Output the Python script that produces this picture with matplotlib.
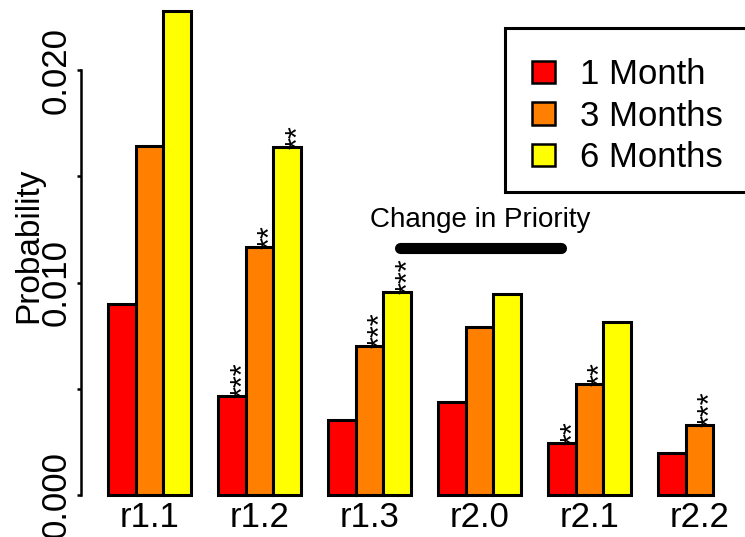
import matplotlib
matplotlib.use("Agg")
import matplotlib.pyplot as plt
from matplotlib.patches import Patch
from matplotlib.lines import Line2D

# ===============================
# Data
# ===============================
groups = ['r1.1', 'r1.2', 'r1.3', 'r2.0', 'r2.1', 'r2.2']
month1 = [0.0090, 0.00466, 0.00353, 0.00438, 0.00245, 0.00198]
month3 = [0.01642, 0.01167, 0.0070, 0.0079, 0.00522, 0.0033]
month6 = [0.0228, 0.01638, 0.00955, 0.00946, 0.00814, None]   # r2.2 has no 6-month bar

stars1 = ['', '***', '', '', '**', '']
stars3 = ['', '**', '***', '', '**', '***']
stars6 = ['', '**', '***', '', '', '']

series = [('1 Month', month1, stars1, '#FF0000'),
          ('3 Months', month3, stars3, '#FF8000'),
          ('6 Months', month6, stars6, '#FFFF00')]

plt.rcParams['font.family'] = ['Liberation Sans', 'DejaVu Sans']

fig = plt.figure(figsize=(7.45, 5.37), dpi=100)
ax = fig.add_axes([80.5 / 745, 42 / 537, 660 / 745, 0.0235 * 21250 / 537])
ax.set_xlim(0, 24)
ax.set_ylim(0, 0.0235)

# R-style beside barplot: 3 bars per group + 1 space
for k, (name, vals, stars, col) in enumerate(series):
    for i, v in enumerate(vals):
        if v is None:
            continue
        x = 4 * i + 1.5 + k
        ax.bar(x, v, width=1, color=col, edgecolor='black', linewidth=2.2, clip_on=False)
        if stars[i]:
            ax.annotate(stars[i], (x + 0.45, v), xytext=(0, -1.5), textcoords='offset points',
                        rotation=90, ha='center', va='bottom', fontsize=22,
                        annotation_clip=False)

# axes
for s in ['top', 'right', 'bottom']:
    ax.spines[s].set_visible(False)
ax.spines['left'].set_bounds(0, 0.020)
ax.spines['left'].set_linewidth(1.8)
ax.set_yticks([0, 0.005, 0.010, 0.015, 0.020])
ax.set_yticklabels(['0.000', '', '0.010', '', '0.020'], rotation=90, va='center', fontsize=25)
ax.tick_params(axis='y', length=3, width=1.8, pad=3)
ax.set_xticks([4 * i + 2.5 for i in range(len(groups))])
ax.set_xticklabels(groups, fontsize=25)
ax.tick_params(axis='x', length=0, pad=4)
ax.set_ylabel('Probability', fontsize=24, labelpad=-4)

# change in priority annotation
ax.plot([11.62, 17.47], [0.01162, 0.01162], color='black', linewidth=8,
        solid_capstyle='round', clip_on=False)
ax.text(14.53, 0.01295, 'Change in Priority', ha='center', va='center', fontsize=20)

# legend: frame drawn by hand (open on the right) so it runs off the edge like the original
handles = [Patch(facecolor=c, edgecolor='black', linewidth=1.8, label=n) for n, _, _, c in series]
leg = fig.legend(handles=handles, loc='upper left',
                 bbox_to_anchor=(505 / 745, 1 - 31 / 537),
                 fontsize=25, frameon=False, borderpad=0.78, borderaxespad=0,
                 handlelength=0.65, handleheight=0.6, handletextpad=0.72, labelspacing=0.25)
fx = [x / 745 for x in (760, 505, 505, 760)]
fy = [1 - y / 537 for y in (28, 28, 192, 192)]
fig.add_artist(Line2D(fx, fy, transform=fig.transFigure, color='black', linewidth=2.2,
                      solid_joinstyle='miter'))

fig.savefig('out.png', dpi=100)
